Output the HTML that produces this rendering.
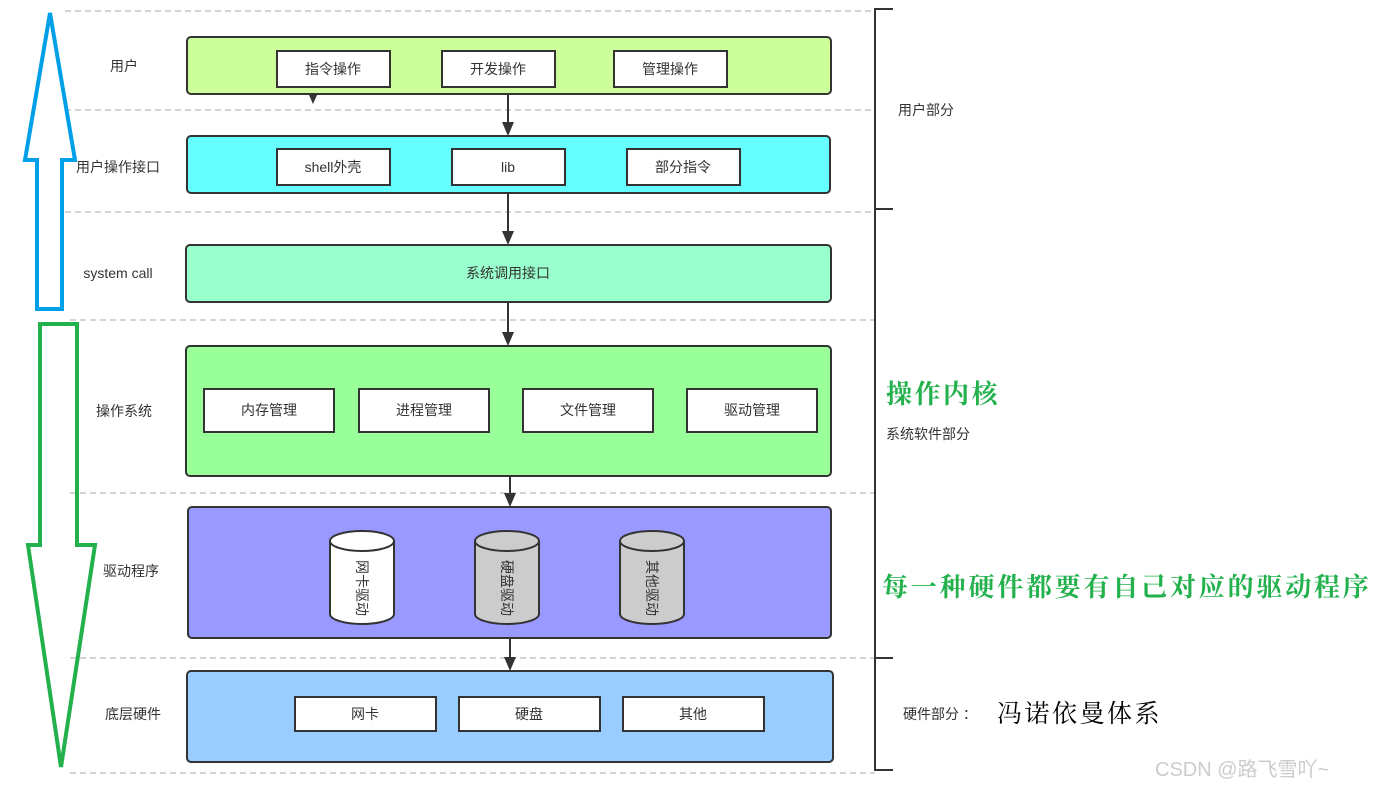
<!DOCTYPE html>
<html><head><meta charset="utf-8"><style>
html,body{margin:0;padding:0;background:#fff;}
svg{display:block;}
text{font-family:"Liberation Sans","Noto Sans CJK SC",sans-serif;font-size:14px;fill:#333;}
.c{text-anchor:middle;dominant-baseline:central;}
.sf{font-family:"Liberation Serif","Noto Serif CJK SC",serif;}
</style></head><body>
<svg width="1382" height="791" viewBox="0 0 1382 791" xmlns="http://www.w3.org/2000/svg">
<defs><marker id="ar" markerWidth="10" markerHeight="10" refX="5" refY="9" orient="auto" markerUnits="userSpaceOnUse"><path d="M0,0 L10,0 L5,10 Z" transform="rotate(-90 5 5)" fill="#333"/></marker></defs>
<g stroke="#aaa" stroke-dasharray="6,4" stroke-width="1">
<line x1="65" y1="11" x2="875" y2="11"/><line x1="65" y1="110" x2="875" y2="110"/>
<line x1="65" y1="212" x2="875" y2="212"/><line x1="70" y1="320" x2="875" y2="320"/>
<line x1="70" y1="493" x2="875" y2="493"/><line x1="70" y1="658" x2="875" y2="658"/>
<line x1="70" y1="773" x2="875" y2="773"/>
</g>
<g stroke="#333" stroke-width="2" fill="none">
<polyline points="893,9 875,9 875,770 893,770"/>
<line x1="875" y1="209" x2="893" y2="209"/><line x1="875" y1="658" x2="893" y2="658"/>
</g>
<g stroke="#333" stroke-width="2">
<rect x="187" y="37" width="644" height="57" rx="4" fill="#ccff99"/>
<rect x="187" y="136" width="643" height="57" rx="4" fill="#66ffff"/>
<rect x="186" y="245" width="645" height="57" rx="4" fill="#99ffcc"/>
<rect x="186" y="346" width="645" height="130" rx="4" fill="#99ff99"/>
<rect x="188" y="507" width="643" height="131" rx="4" fill="#9999ff"/>
<rect x="187" y="671" width="646" height="91" rx="4" fill="#99ccff"/>
<g fill="#fff">
<rect x="277" y="51" width="113" height="36"/><rect x="442" y="51" width="113" height="36"/><rect x="614" y="51" width="113" height="36"/>
<rect x="277" y="149" width="113" height="36"/><rect x="452" y="149" width="113" height="36"/><rect x="627" y="149" width="113" height="36"/>
<rect x="204" y="389" width="130" height="43"/><rect x="359" y="389" width="130" height="43"/><rect x="523" y="389" width="130" height="43"/><rect x="687" y="389" width="130" height="43"/>
<rect x="295" y="697" width="141" height="34"/><rect x="459" y="697" width="141" height="34"/><rect x="623" y="697" width="141" height="34"/>
</g>
</g>
<!-- cylinders -->
<g stroke="#333" stroke-width="2">
<path d="M330,541 L330,614 A32,10 0 0 0 394,614 L394,541" fill="#fff"/><ellipse cx="362" cy="541" rx="32" ry="10" fill="#fff"/>
<path d="M475,541 L475,614 A32,10 0 0 0 539,614 L539,541" fill="#ccc"/><ellipse cx="507" cy="541" rx="32" ry="10" fill="#ccc"/>
<path d="M620,541 L620,614 A32,10 0 0 0 684,614 L684,541" fill="#ccc"/><ellipse cx="652" cy="541" rx="32" ry="10" fill="#ccc"/>
</g>
<text class="c" transform="translate(362,588) rotate(90)">网卡驱动</text>
<text class="c" transform="translate(507,588) rotate(90)">硬盘驱动</text>
<text class="c" transform="translate(652,588) rotate(90)">其他驱动</text>
<!-- arrows -->
<g stroke="#333" stroke-width="2">
<line x1="508" y1="94" x2="508" y2="126"/><line x1="508" y1="193" x2="508" y2="235"/>
<line x1="508" y1="302" x2="508" y2="336"/><line x1="510" y1="476" x2="510" y2="497"/><line x1="510" y1="638" x2="510" y2="661"/>
</g>
<g fill="#333">
<path d="M502,122 L514,122 L508,136 Z"/><path d="M502,231 L514,231 L508,245 Z"/><path d="M502,332 L514,332 L508,346 Z"/>
<path d="M504,493 L516,493 L510,507 Z"/><path d="M504,657 L516,657 L510,671 Z"/><path d="M309,95 L317,95 L313,104 Z"/>
</g>
<!-- texts -->
<text class="c" x="333" y="69">指令操作</text><text class="c" x="498" y="69">开发操作</text><text class="c" x="670" y="69">管理操作</text>
<text class="c" x="333" y="167">shell外壳</text><text class="c" x="508" y="167">lib</text><text class="c" x="683" y="167">部分指令</text>
<text class="c" x="508" y="273">系统调用接口</text>
<text class="c" x="269" y="410">内存管理</text><text class="c" x="424" y="410">进程管理</text><text class="c" x="588" y="410">文件管理</text><text class="c" x="752" y="410">驱动管理</text>
<text class="c" x="365" y="714">网卡</text><text class="c" x="529" y="714">硬盘</text><text class="c" x="693" y="714">其他</text>
<text class="c" x="124" y="66">用户</text><text class="c" x="118" y="167">用户操作接口</text><text class="c" x="118" y="273">system call</text>
<text class="c" x="124" y="411">操作系统</text><text class="c" x="131" y="571">驱动程序</text><text class="c" x="133" y="714">底层硬件</text>
<!-- big arrows -->
<polygon points="50,13 25,160 37,160 37,309 62,309 62,160 75,160" fill="none" stroke="#00a0e9" stroke-width="4"/>
<polygon points="40,324 77,324 77,545 95,545 61,767 28,545 40,545" fill="none" stroke="#22b14c" stroke-width="4"/>
<!-- right -->
<text x="898" y="115">用户部分</text>
<text class="sf" x="886" y="403" style="font-size:26px;letter-spacing:2.5px;fill:#22b14c;font-weight:bold">操作内核</text>
<text x="886" y="439">系统软件部分</text>
<text class="sf" x="882" y="596" style="font-size:26px;letter-spacing:2.8px;fill:#22b14c;font-weight:bold">每一种硬件都要有自己对应的驱动程序</text>
<text x="903" y="719">硬件部分 ：</text>
<text class="sf" x="997" y="722" style="font-size:25px;letter-spacing:2.5px;fill:#000">冯诺依曼体系</text>
<text x="1155" y="776" style="font-size:20px;fill:#ccc">CSDN @路飞雪吖~</text>
</svg>
</body></html>
